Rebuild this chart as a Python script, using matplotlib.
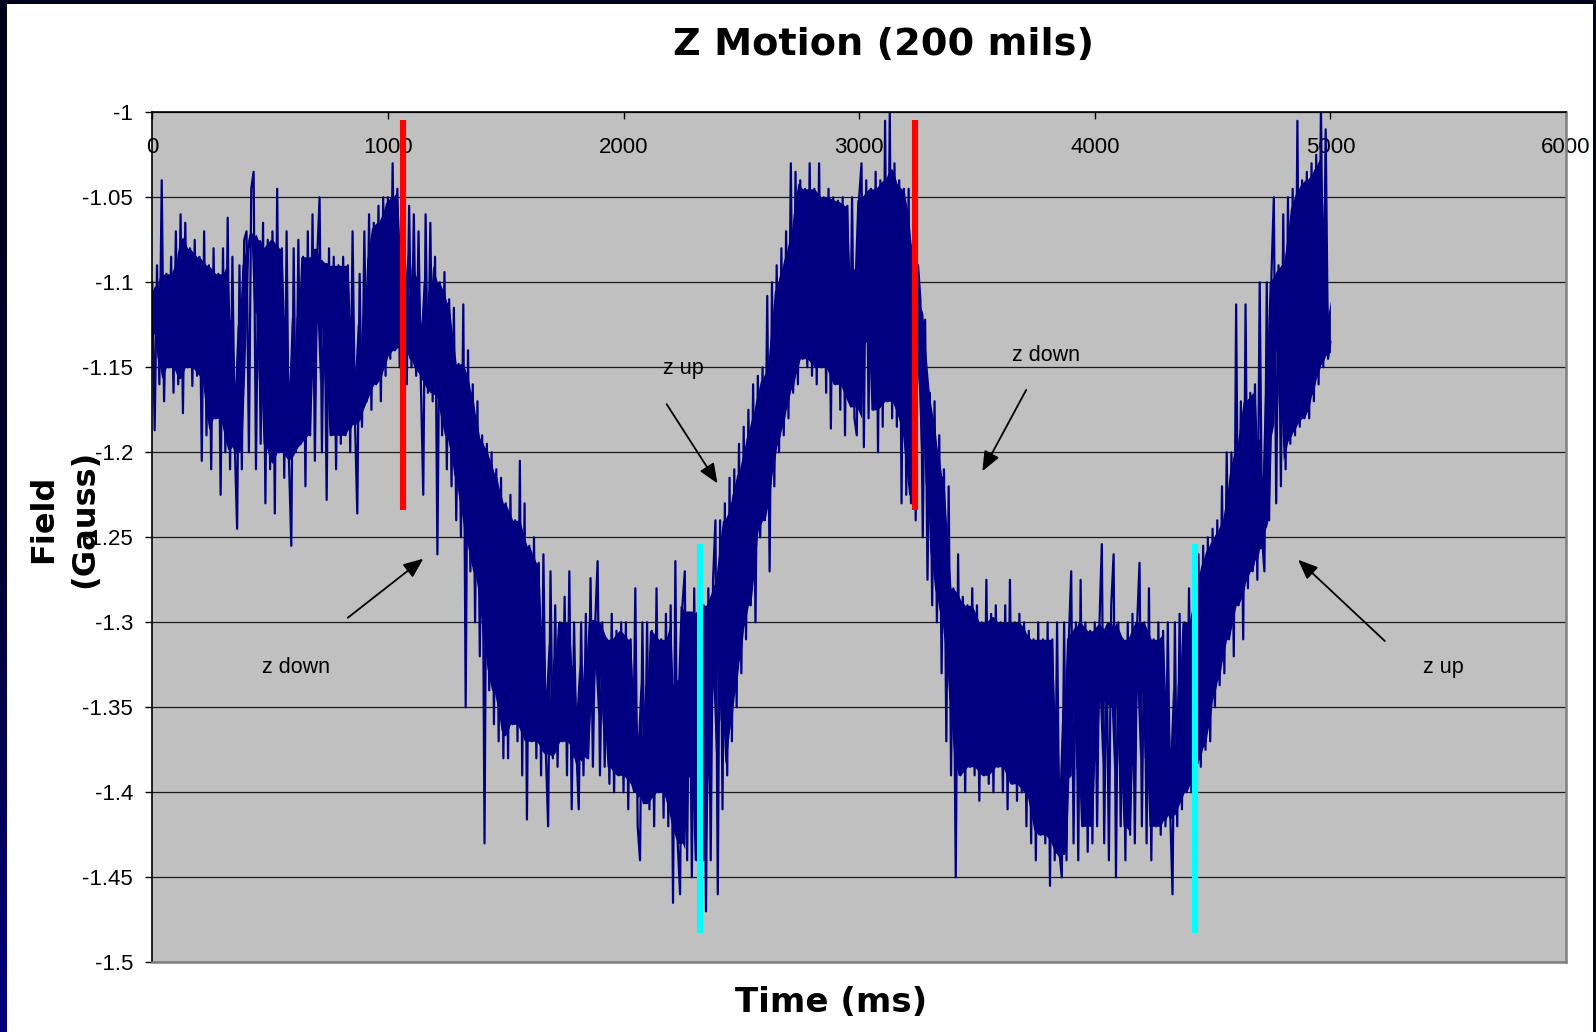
import matplotlib
matplotlib.use("Agg")
import matplotlib.pyplot as plt
import numpy as np
import pandas as pd
from matplotlib.colors import LinearSegmentedColormap

# ---------------- data ----------------
sample_step_ms = 10
field_gauss = [
    -1.10, -1.187, -1.09, -1.16, -1.04, -1.17, -1.095, -1.15, -1.085, -1.165,      # 0
    -1.07, -1.16, -1.06, -1.177, -1.065, -1.15, -1.08, -1.161, -1.075, -1.155,     # 100
    -1.085, -1.205, -1.07, -1.19, -1.09, -1.21, -1.08, -1.18, -1.095, -1.225,      # 200
    -1.08, -1.20, -1.062, -1.21, -1.085, -1.195, -1.245, -1.09, -1.21, -1.075,     # 300
    -1.07, -1.20, -1.045, -1.035, -1.21, -1.08, -1.195, -1.065, -1.23, -1.075,     # 400
    -1.21, -1.07, -1.236, -1.045, -1.20, -1.08, -1.215, -1.07, -1.205, -1.255,     # 500
    -1.08, -1.20, -1.075, -1.195, -1.085, -1.22, -1.07, -1.19, -1.06, -1.205,      # 600
    -1.085, -1.05, -1.20, -1.09, -1.228, -1.08, -1.19, -1.085, -1.21, -1.09,       # 700
    -1.195, -1.085, -1.19, -1.09, -1.20, -1.07, -1.18, -1.236, -1.095, -1.185,     # 800
    -1.07, -1.17, -1.06, -1.175, -1.065, -1.16, -1.055, -1.17, -1.05, -1.155,      # 900
    -1.05, -1.145, -1.03, -1.14, -1.045, -1.15, -1.04, -1.135, -1.16, -1.055,      # 1000
    -1.15, -1.06, -1.155, -1.07, -1.16, -1.225, -1.06, -1.165, -1.065, -1.17,      # 1100
    -1.085, -1.26, -1.10, -1.19, -1.094, -1.21, -1.11, -1.22, -1.115, -1.24,       # 1200
    -1.148, -1.25, -1.113, -1.35, -1.14, -1.27, -1.16, -1.30, -1.17, -1.32,        # 1300
    -1.19, -1.43, -1.195, -1.34, -1.20, -1.36, -1.21, -1.37, -1.215, -1.38,        # 1400
    -1.23, -1.38, -1.225, -1.36, -1.24, -1.37, -1.205, -1.39, -1.23, -1.416,       # 1500
    -1.255, -1.37, -1.25, -1.38, -1.265, -1.39, -1.26, -1.375, -1.42, -1.27,       # 1600
    -1.38, -1.29, -1.385, -1.30, -1.37, -1.285, -1.39, -1.27, -1.41, -1.30,        # 1700
    -1.375, -1.41, -1.30, -1.39, -1.295, -1.38, -1.274, -1.385, -1.30, -1.264,     # 1800
    -1.39, -1.30, -1.385, -1.31, -1.395, -1.295, -1.40, -1.305, -1.39, -1.30,      # 1900
    -1.40, -1.30, -1.41, -1.31, -1.395, -1.28, -1.42, -1.44, -1.30, -1.405,        # 2000
    -1.30, -1.41, -1.305, -1.42, -1.28, -1.40, -1.31, -1.415, -1.295, -1.42,       # 2100
    -1.29, -1.465, -1.264, -1.43, -1.46, -1.29, -1.27, -1.44, -1.295, -1.45,       # 2200
    -1.28, -1.44, -1.285, -1.45, -1.29, -1.47, -1.28, -1.44, -1.275, -1.24,        # 2300
    -1.46, -1.24, -1.41, -1.23, -1.39, -1.215, -1.37, -1.21, -1.35, -1.195,        # 2400
    -1.33, -1.185, -1.31, -1.175, -1.29, -1.16, -1.30, -1.155, -1.25, -1.15,       # 2500
    -1.24, -1.108, -1.27, -1.10, -1.22, -1.09, -1.20, -1.08, -1.19, -1.07,         # 2600
    -1.18, -1.03, -1.165, -1.035, -1.16, -1.04, -1.145, -1.045, -1.15, -1.03,      # 2700
    -1.155, -1.045, -1.16, -1.03, -1.15, -1.05, -1.165, -1.045, -1.186, -1.05,     # 2800
    -1.16, -1.052, -1.175, -1.05, -1.19, -1.055, -1.17, -1.05, -1.18, -1.19,       # 2900
    -1.05, -1.03, -1.197, -1.04, -1.18, -1.045, -1.175, -1.035, -1.20, -1.04,      # 3000
    -1.185, -1.005, -1.17, -1.0, -1.18, -1.03, -1.185, -1.04, -1.23, -1.045,       # 3100
    -1.225, -1.045, -1.23, -1.07, -1.24, -1.09, -1.11, -1.25, -1.122, -1.275,      # 3200
    -1.165, -1.29, -1.17, -1.30, -1.19, -1.33, -1.21, -1.37, -1.22, -1.39,         # 3300
    -1.28, -1.45, -1.26, -1.39, -1.285, -1.40, -1.29, -1.385, -1.28, -1.39,        # 3400
    -1.29, -1.405, -1.30, -1.39, -1.275, -1.395, -1.295, -1.40, -1.29, -1.385,     # 3500
    -1.30, -1.40, -1.29, -1.41, -1.275, -1.395, -1.30, -1.405, -1.295, -1.40,      # 3600
    -1.30, -1.42, -1.305, -1.43, -1.31, -1.44, -1.30, -1.425, -1.31, -1.43,        # 3700
    -1.30, -1.455, -1.31, -1.44, -1.30, -1.435, -1.45, -1.30, -1.44, -1.31,        # 3800
    -1.27, -1.43, -1.30, -1.44, -1.275, -1.42, -1.30, -1.435, -1.305, -1.43,       # 3900
    -1.30, -1.42, -1.30, -1.254, -1.43, -1.31, -1.44, -1.29, -1.26, -1.45,         # 4000
    -1.30, -1.42, -1.31, -1.44, -1.30, -1.425, -1.295, -1.43, -1.30, -1.265,       # 4100
    -1.42, -1.30, -1.43, -1.28, -1.44, -1.31, -1.42, -1.30, -1.425, -1.305,        # 4200
    -1.42, -1.30, -1.41, -1.46, -1.30, -1.42, -1.295, -1.41, -1.30, -1.40,         # 4300
    -1.28, -1.40, -1.27, -1.39, -1.26, -1.385, -1.255, -1.375, -1.25, -1.37,       # 4400
    -1.245, -1.35, -1.24, -1.337, -1.22, -1.33, -1.20, -1.31, -1.20, -1.32,        # 4500
    -1.113, -1.29, -1.17, -1.31, -1.113, -1.28, -1.165, -1.27, -1.16, -1.275,      # 4600
    -1.10, -1.25, -1.27, -1.10, -1.24, -1.095, -1.05, -1.23, -1.09, -1.22,         # 4700
    -1.06, -1.21, -1.05, -1.195, -1.045, -1.19, -1.005, -1.185, -1.04, -1.18,      # 4800
    -1.035, -1.18, -1.03, -1.17, -1.025, -1.16, -0.995, -1.15, -1.01, -1.145,      # 4900
    -1.135,                                                                         # 5000
]
time_ms = [i * sample_step_ms for i in range(len(field_gauss))]

x_ticks = [0, 1000, 2000, 3000, 4000, 5000, 6000]
x_tick_labels = ["0", "1000", "2000", "3000", "4000", "5000", "6000"]
y_ticks = [-1.5, -1.45, -1.4, -1.35, -1.3, -1.25, -1.2, -1.15, -1.1, -1.05, -1.0]
y_tick_labels = ["-1.5", "-1.45", "-1.4", "-1.35", "-1.3", "-1.25", "-1.2",
                 "-1.15", "-1.1", "-1.05", "-1"]

red_marks_ms = [1066, 3236]
red_span = (-1.0045, -1.234)
cyan_marks_ms = [2325, 4425]
cyan_span = (-1.254, -1.483)

annot_texts = ["z up", "z down", "z down", "z up"]
annot_text_xy = [(2252, -1.1507), (3795, -1.143), (609, -1.3266), (5481, -1.3266)]
annot_arrow_from = [(2183, -1.1717), (3709, -1.1633), (830, -1.2973), (5231, -1.311)]
annot_arrow_to = [(2399, -1.2183), (3523, -1.2111), (1150, -1.2626), (4863, -1.2632)]

title = "Z Motion (200 mils)"
x_label = "Time (ms)"
y_label = "Field\n(Gauss)"

# ---------------- figure ----------------
W, H = 1596, 1032
fig = plt.figure(figsize=(W / 100, H / 100), dpi=100)
fig.patch.set_facecolor("white")

# slide frame
frame_top = fig.add_axes([0, 1 - 4 / H, 1, 4 / H])
frame_top.set_axis_off()
frame_top.add_patch(plt.Rectangle((0, 0), 1, 1, color="#00001c", transform=frame_top.transAxes))
frame_right = fig.add_axes([1 - 3 / W, 0, 3 / W, 1])
frame_right.set_axis_off()
frame_right.add_patch(plt.Rectangle((0, 0), 1, 1, color="#000024", transform=frame_right.transAxes))
frame_left = fig.add_axes([0, 0, 7 / W, 1])
frame_left.set_axis_off()
grad = np.linspace(0, 1, 256).reshape(-1, 1)
cmap_frame = LinearSegmentedColormap.from_list("frame", ["#000080", "#000030", "#00001c"])
frame_left.imshow(grad, aspect="auto", cmap=cmap_frame, extent=[0, 1, 0, 1], origin="lower")

ax = fig.add_axes([152.3 / W, 1 - 962.3 / H, (1566 - 152.3) / W, (962.3 - 112.3) / H])
ax.set_facecolor("#c0c0c0")
ax.set_xlim(0, 6000)
ax.set_ylim(-1.5, -1.0)

# dense core of the noisy trace (inner band between neighbouring samples)
series = pd.Series(field_gauss)
core_lo = series.rolling(6, center=True, min_periods=1).quantile(0.4)
core_hi = series.rolling(6, center=True, min_periods=1).quantile(0.6)
core_lo = core_lo.rolling(3, center=True, min_periods=1).mean()
core_hi = core_hi.rolling(3, center=True, min_periods=1).mean()
ax.fill_between(time_ms, core_lo, core_hi, color="#000080", lw=0, zorder=2)
ax.plot(time_ms, field_gauss, color="#000080", lw=1.6, zorder=2)

ax.vlines(red_marks_ms, red_span[1], red_span[0], color="#ff0000", lw=4.4, zorder=3)
ax.vlines(cyan_marks_ms, cyan_span[1], cyan_span[0], color="#00ffff", lw=4.4, zorder=3)

for txt, txy, a_from, a_to in zip(annot_texts, annot_text_xy, annot_arrow_from, annot_arrow_to):
    ax.text(txy[0], txy[1], txt, ha="center", va="center", fontsize=15.5,
            family="Liberation Sans", color="black", zorder=5)
    ax.annotate("", xy=a_to, xytext=a_from,
                arrowprops=dict(arrowstyle="-|>,head_length=0.6,head_width=0.25",
                                color="black", lw=1.3, mutation_scale=20,
                                shrinkA=0, shrinkB=0), zorder=5)

# grid / ticks
ax.set_yticks(y_ticks)
ax.set_yticklabels(y_tick_labels, family="Liberation Sans", fontsize=16)
ax.yaxis.grid(True, color="#1a1a1a", lw=0.9)
ax.set_axisbelow(True)
ax.tick_params(axis="y", direction="out", length=4.8, width=1, color="black", pad=9)

ax.set_xticks(x_ticks)
ax.set_xticklabels(x_tick_labels, family="Liberation Sans", fontsize=16)
ax.xaxis.set_ticks_position("top")
ax.tick_params(axis="x", which="both", top=True, bottom=False, labeltop=True,
               labelbottom=False, direction="in", length=4.8, width=1,
               color="black", pad=-32.7)

for side in ("left", "top"):
    ax.spines[side].set_color("black")
    ax.spines[side].set_linewidth(1.2)
for side in ("right", "bottom"):
    ax.spines[side].set_color("#808080")
    ax.spines[side].set_linewidth(1.8)

fig.text(883 / W, 1 - 45 / H, title, ha="center", va="center",
         fontsize=27.5, fontweight="bold", family="DejaVu Sans")
fig.text(831 / W, 1 - 1003 / H, x_label, ha="center", va="center",
         fontsize=24.5, fontweight="bold", family="DejaVu Sans")
fig.text(64 / W, 1 - 519 / H, y_label, ha="center", va="center", rotation=90,
         multialignment="center", linespacing=1.4,
         fontsize=23, fontweight="bold", family="DejaVu Sans")

fig.savefig("out.png", dpi=100, facecolor=fig.get_facecolor())
